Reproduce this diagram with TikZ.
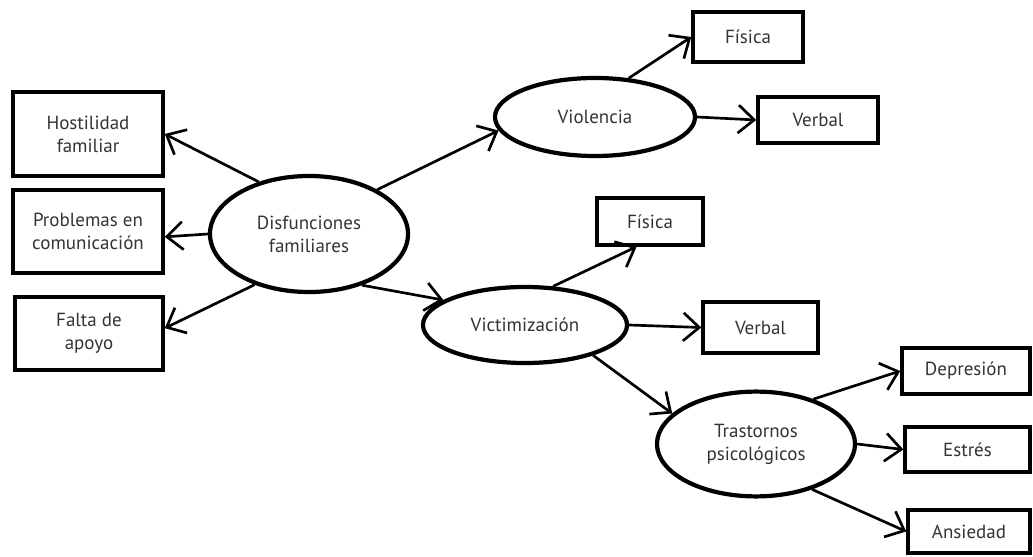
\documentclass[tikz,border=0pt]{standalone}
\usepackage{fontspec}
\setmainfont{PT Sans}
\usetikzlibrary{shapes.geometric,arrows.meta}
\definecolor{txt}{HTML}{333333}
\tikzset{
  box/.style={draw=black, line width=2.5pt, rectangle, inner sep=0pt, align=center,
    text=txt, font=\fontsize{13.5}{16.5}\selectfont},
  oval/.style={draw=black, line width=3pt, ellipse, inner sep=0pt, align=center,
    text=txt, font=\fontsize{13.5}{16.5}\selectfont},
  conn/.style={line width=1.9pt, -{Straight Barb[length=4mm,width=7mm,line width=1.9pt]}}
}
\begin{document}
\begin{tikzpicture}[x=0.025cm,y=-0.025cm]
\useasboundingbox (0,0) rectangle (1033,557);
% ellipses
\node[oval, minimum width=4.95cm, minimum height=2.9cm] (dis) at (309,234) {Disfunciones\\familiares};
\node[oval, minimum width=5.0cm, minimum height=1.95cm] (vio) at (595,117) {Violencia};
\node[oval, minimum width=5.1cm, minimum height=1.9cm] (vic) at (525,325) {Victimizaci\'on};
\node[oval, minimum width=4.95cm, minimum height=2.62cm] (tra) at (756,444) {Trastornos\\psicol\'ogicos};
% boxes
\node[box, minimum width=3.75cm, minimum height=2.1cm] (host) at (88,134) {Hostilidad\\familiar};
\node[box, minimum width=3.75cm, minimum height=2.07cm] (prob) at (88,231.5) {Problemas en\\comunicaci\'on};
\node[box, minimum width=3.7cm, minimum height=1.82cm] (falta) at (89,333.5) {Falta de\\apoyo};
\node[box, minimum width=2.75cm, minimum height=1.25cm] (fis1) at (748,37) {F\'isica};
\node[box, minimum width=3.0cm, minimum height=1.15cm] (ver1) at (818,120) {Verbal};
\node[box, minimum width=2.65cm, minimum height=1.17cm] (fis2) at (650,221.5) {F\'isica};
\node[box, minimum width=2.87cm, minimum height=1.27cm] (ver2) at (760.5,327.5) {Verbal};
\node[box, minimum width=3.2cm, minimum height=1.15cm] (dep) at (966,371) {Depresi\'on};
\node[box, minimum width=3.12cm, minimum height=1.12cm] (est) at (967.5,449.5) {Estr\'es};
\node[box, minimum width=3.05cm, minimum height=1.07cm] (ans) at (969,531.5) {Ansiedad};
% connectors
\draw[conn] (dis.134) -- (host.east);
\draw[conn] (dis.180) -- (prob.-4);
\draw[conn] (dis.223) -- (falta.4);
\draw[conn] (dis.33) -- (vio.188);
\draw[conn] (dis.-44) -- (vic.163);
\draw[conn] (vio.49) -- (fis1.west);
\draw[conn] (vio.0) -- (ver1.west);
\draw[conn] (vic.54) -- (fis2.242);
\draw[conn] (vic.0) -- (ver2.west);
\draw[conn] (vic.-24) -- (tra.160);
\draw[conn] (tra.38) -- (dep.west);
\draw[conn] (tra.0) -- (est.west);
\draw[conn] (tra.-39) -- (ans.west);
\end{tikzpicture}
\end{document}
